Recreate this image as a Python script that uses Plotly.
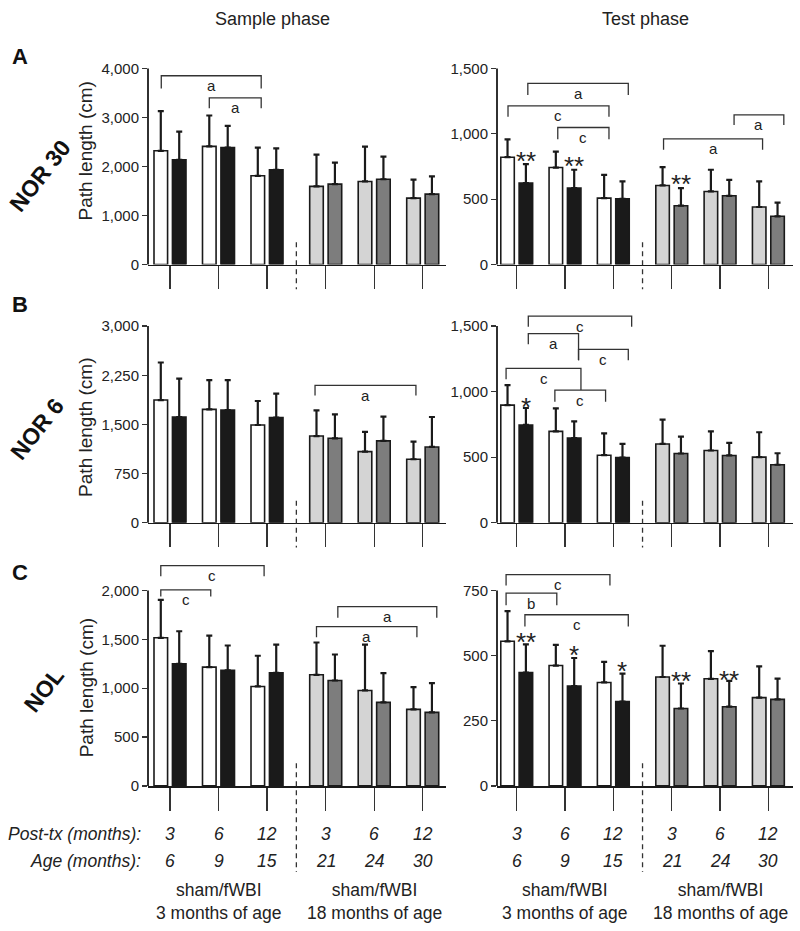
import plotly.graph_objects as go

FONT = "Arial, 'Liberation Sans', Helvetica, sans-serif"
W, H = 800, 931
INK = "#1a1a1a"

# ---------------- data ----------------
post_tx_labels = ["3", "6", "12", "3", "6", "12"]
age_labels = ["6", "9", "15", "21", "24", "30"]
cohort_labels = ["sham/fWBI<br>3 months of age", "sham/fWBI<br>18 months of age"]
row_names = ["NOR 30", "NOR 6", "NOL"]
row_letters = ["A", "B", "C"]
col_titles = ["Sample phase", "Test phase"]

# NOR 30
nor30_sample_sham = [2320, 2410, 1810, 1595, 1695, 1355]
nor30_sample_sham_err = [810, 630, 575, 645, 710, 375]
nor30_sample_fwbi = [2135, 2385, 1930, 1640, 1740, 1437]
nor30_sample_fwbi_err = [575, 445, 440, 440, 460, 360]
nor30_test_sham = [821, 742, 508, 605, 559, 440]
nor30_test_sham_err = [137, 122, 178, 140, 166, 196]
nor30_test_fwbi = [623, 585, 503, 450, 526, 369]
nor30_test_fwbi_err = [145, 140, 133, 135, 122, 104]
# NOR 6
nor6_sample_sham = [1872, 1729, 1491, 1322, 1085, 968]
nor6_sample_sham_err = [573, 448, 366, 393, 300, 270]
nor6_sample_fwbi = [1613, 1720, 1603, 1288, 1248, 1156]
nor6_sample_fwbi_err = [587, 457, 366, 366, 370, 457]
nor6_test_sham = [897, 697, 515, 601, 551, 500]
nor6_test_sham_err = [152, 175, 167, 185, 146, 190]
nor6_test_fwbi = [746, 646, 497, 528, 513, 442]
nor6_test_fwbi_err = [129, 127, 104, 129, 96, 88]
# NOL
nol_sample_sham = [1516, 1216, 1018, 1137, 977, 783]
nol_sample_sham_err = [388, 323, 314, 331, 470, 228]
nol_sample_fwbi = [1250, 1182, 1158, 1079, 855, 752]
nol_sample_fwbi_err = [333, 255, 289, 266, 299, 300]
nol_test_sham = [555, 462, 397, 418, 411, 339]
nol_test_sham_err = [116, 79, 79, 120, 106, 120]
nol_test_fwbi = [435, 383, 324, 297, 304, 332]
nol_test_fwbi_err = [108, 108, 107, 96, 99, 80]

yticks_nor30_sample = [0, 1000, 2000, 3000, 4000]
yticks_nor30_test = [0, 500, 1000, 1500]
yticks_nor6_sample = [0, 750, 1500, 2250, 3000]
yticks_nor6_test = [0, 500, 1000, 1500]
yticks_nol_sample = [0, 500, 1000, 1500, 2000]
yticks_nol_test = [0, 250, 500, 750]

# significance brackets: (x_start, x_end, y, leg_end_left, leg_end_right, letter)
br_nor30_sample = [(-0.18, 1.88, 3850, 3590, 3590, "a"),
                   (0.81, 1.88, 3400, 3190, 3190, "a")]
br_nor30_test = [(0.23, 2.31, 1386, 1297, 1297, "a"),
                 (-0.18, 1.91, 1213, 1131, 1131, "c"),
                 (0.85, 1.91, 1048, 958, 958, "c"),
                 (3.04, 5.09, 961, 877, 877, "a"),
                 (4.50, 5.53, 1144, 1068, 1068, "a")]
br_nor6_sample = [(2.99, 5.07, 2096, 1943, 1943, "a")]
br_nor6_test = [(0.24, 2.38, 1576, 1495, 1495, "c"),
                (0.24, 1.28, 1442, 1361, 1240, "a"),
                (1.28, 2.31, 1323, 1240, 1240, "c"),
                (-0.22, 1.33, 1178, 1095, 1012, "c"),
                (0.79, 1.84, 1012, 923, 923, "c")]
br_nol_sample = [(-0.19, 1.94, 2255, 2146, 2146, "c"),
                 (-0.19, 0.84, 2006, 1938, 1938, "c"),
                 (3.46, 5.50, 1836, 1720, 1720, "a"),
                 (3.02, 5.09, 1631, 1522, 1522, "a")]
br_nol_test = [(-0.22, 1.93, 811, 769, 769, "c"),
               (-0.22, 0.83, 740, 693, 693, "b"),
               (0.17, 2.31, 657, 612, 612, "c")]

# asterisks above fWBI bars: (group index, y, text)
st_nor30_test = [(0, 839, "**"), (1, 800, "**"), (3, 661, "**")]
st_nor6_test = [(0, 930, "*")]
st_nol_test = [(0, 574, "**"), (1, 527, "*"), (2, 463, "*"), (3, 425, "**"), (4, 431, "**")]

panels = [
    dict(r=0, c=0, sham=nor30_sample_sham, se=nor30_sample_sham_err, fw=nor30_sample_fwbi, fe=nor30_sample_fwbi_err, yt=yticks_nor30_sample, br=br_nor30_sample, st=[]),
    dict(r=0, c=1, sham=nor30_test_sham, se=nor30_test_sham_err, fw=nor30_test_fwbi, fe=nor30_test_fwbi_err, yt=yticks_nor30_test, br=br_nor30_test, st=st_nor30_test),
    dict(r=1, c=0, sham=nor6_sample_sham, se=nor6_sample_sham_err, fw=nor6_sample_fwbi, fe=nor6_sample_fwbi_err, yt=yticks_nor6_sample, br=br_nor6_sample, st=[]),
    dict(r=1, c=1, sham=nor6_test_sham, se=nor6_test_sham_err, fw=nor6_test_fwbi, fe=nor6_test_fwbi_err, yt=yticks_nor6_test, br=br_nor6_test, st=st_nor6_test),
    dict(r=2, c=0, sham=nol_sample_sham, se=nol_sample_sham_err, fw=nol_sample_fwbi, fe=nol_sample_fwbi_err, yt=yticks_nol_sample, br=br_nol_sample, st=[]),
    dict(r=2, c=1, sham=nol_test_sham, se=nol_test_sham_err, fw=nol_test_fwbi, fe=nol_test_fwbi_err, yt=yticks_nol_test, br=br_nol_test, st=st_nol_test),
]

# ---------------- layout geometry (pixels) ----------------
YS = 1 / 0.9915


def vy(y):
    return 17 + (y - 17) * YS


col_px = [(148, 446), (497, 793)]
x_rng = [(-0.4536, 5.69), (-0.408, 5.72)]
row_zero_px = [vy(263.3), vy(522.0), vy(785.8)]
row_toptick_px = [vy(66.7), vy(325.0), vy(590.0)]
row_top_px = [vy(60.0), vy(305.0), vy(555.0)]
dash_px = [(vy(241), vy(288)), (vy(500), vy(547)), (vy(763), vy(872))]

OLD_GAP = 0.21
gpos = [i + (OLD_GAP if i >= 3 else 0) for i in range(6)]
OFF = 0.19
BW = 0.28
sham_colors = ["#ffffff"] * 3 + ["#d4d4d4"] * 3
fwbi_colors = [INK] * 3 + ["#7d7d7d"] * 3


def px_x(c, u):
    x0, x1 = col_px[c]
    a, b = x_rng[c]
    return x0 + (u - a) / (b - a) * (x1 - x0)


def paper_text(x, y, text, size, **kw):
    d = dict(x=x / W, y=1 - vy(y) / H, xref="paper", yref="paper", text=text,
             showarrow=False, xanchor="center", yanchor="middle",
             font=dict(family=FONT, size=size, color=kw.pop("color", "#222")))
    d.update(kw)
    return d


fig = go.Figure()
shapes = []
annotations = []

for p in panels:
    r, c = p["r"], p["c"]
    idx = r * 2 + c + 1
    xn = "x" if idx == 1 else f"x{idx}"
    yn = "y" if idx == 1 else f"y{idx}"
    xk = "xaxis" if idx == 1 else f"xaxis{idx}"
    yk = "yaxis" if idx == 1 else f"yaxis{idx}"
    zero, toptick, top = row_zero_px[r], row_toptick_px[r], row_top_px[r]
    ppu = (zero - toptick) / p["yt"][-1]
    ytop = (zero - top) / ppu

    for vals, errs, cols, off in [(p["sham"], p["se"], sham_colors, -OFF),
                                  (p["fw"], p["fe"], fwbi_colors, OFF)]:
        fig.add_trace(go.Bar(
            x=[g + off for g in gpos], y=vals, width=BW,
            marker=dict(color=cols, line=dict(color=INK, width=1.6)),
            error_y=dict(type="data", symmetric=False, array=errs,
                         arrayminus=[0] * len(errs), color=INK, thickness=2.2, width=3),
            xaxis=xn, yaxis=yn, showlegend=False, hoverinfo="skip"))

    fig.layout[xk] = dict(domain=[col_px[c][0] / W, col_px[c][1] / W], range=list(x_rng[c]),
                          anchor=yn, showline=True, linecolor=INK, linewidth=1.8,
                          ticks="outside", ticklen=23, tickwidth=1.3, tickcolor="#333",
                          tickvals=gpos, showticklabels=False, showgrid=False, zeroline=False,
                          fixedrange=True)
    fig.layout[yk] = dict(domain=[1 - zero / H, 1 - top / H], range=[0, ytop], anchor=xn,
                          showline=False, ticks="outside", ticklen=5, tickwidth=1.3,
                          tickcolor="#333", tickvals=p["yt"], tickformat=",",
                          tickfont=dict(family=FONT, size=15, color="#222"),
                          showgrid=False, zeroline=False, fixedrange=True)

    # y-axis line up to the top tick
    shapes.append(dict(type="line", xref="paper", yref="paper",
                       x0=col_px[c][0] / W, x1=col_px[c][0] / W,
                       y0=1 - zero / H, y1=1 - toptick / H,
                       line=dict(color=INK, width=1.8)))
    # dashed separator
    dx = px_x(c, (gpos[2] + gpos[3]) / 2) / W
    shapes.append(dict(type="line", xref="paper", yref="paper", x0=dx, x1=dx,
                       y0=1 - dash_px[r][0] / H, y1=1 - dash_px[r][1] / H,
                       line=dict(color="#333", width=1.3, dash="5px,4px")))

    for (a, b, y, ea, eb, lab) in p["br"]:
        shapes.append(dict(type="path", xref=xn, yref=yn,
                           path=f"M {a},{ea} L {a},{y} L {b},{y} L {b},{eb}",
                           line=dict(color="#333", width=1.3)))
        annotations.append(dict(x=(a + b) / 2, y=y, xref=xn, yref=yn, text=lab,
                                showarrow=False, xanchor="center", yanchor="middle", yshift=-10,
                                font=dict(family=FONT, size=15, color="#222")))
    for (g, y, t) in p["st"]:
        annotations.append(dict(x=gpos[g] + OFF, y=y, xref=xn, yref=yn, text=t,
                                showarrow=False, xanchor="center", yanchor="middle", yshift=-6,
                                font=dict(family=FONT, size=26, color="#222")))

# column titles
for c, t in enumerate(col_titles):
    annotations.append(paper_text([272, 645][c], 17, t, 18))

# row letters, row names, y titles
ytitle_centers = [150, 427, 688]
name_centers = [(40, 175), (37, 428), (44, 690)]
letter_pos = [55, 303, 572]
for r in range(3):
    annotations.append(paper_text(20, letter_pos[r], f"<b>{row_letters[r]}</b>", 22, color="#111"))
    annotations.append(paper_text(name_centers[r][0], name_centers[r][1],
                                  f"<b>{row_names[r]}</b>", 23, color="#111", textangle=-52))
    annotations.append(paper_text(86, ytitle_centers[r], "Path length (cm)", 19, textangle=-90))

# bottom labels
annotations.append(paper_text(143, 834, "<i>Post-tx (months):</i>", 17.5, xanchor="right"))
annotations.append(paper_text(143, 861, "<i>Age (months):</i>", 17.5, xanchor="right"))
for c in range(2):
    for g in range(6):
        xg = px_x(c, gpos[g])
        annotations.append(paper_text(xg, 834, f"<i>{post_tx_labels[g]}</i>", 17.5))
        annotations.append(paper_text(xg, 861, f"<i>{age_labels[g]}</i>", 17.5))
    for k, gc in enumerate([gpos[1], gpos[4]]):
        annotations.append(paper_text(px_x(c, gc), 902, cohort_labels[k], 17.5))

fig.update_layout(width=W, height=H, margin=dict(l=0, r=0, t=0, b=0),
                  paper_bgcolor="white", plot_bgcolor="rgba(0,0,0,0)",
                  barmode="overlay", shapes=shapes, annotations=annotations,
                  showlegend=False, font=dict(family=FONT))

fig.write_html("out.html", config={"displayModeBar": False, "staticPlot": True},
               post_script=("document.documentElement.style.margin='0';"
                            "document.body.style.margin='0';document.body.style.padding='0';"
                            "document.body.style.overflow='hidden';"
                            "var d=document.getElementById('{plot_id}');d.style.display='block';"
                            "d.parentElement.style.display='block';d.parentElement.style.lineHeight='0';"
                            "document.documentElement.style.overflow='hidden';"))
